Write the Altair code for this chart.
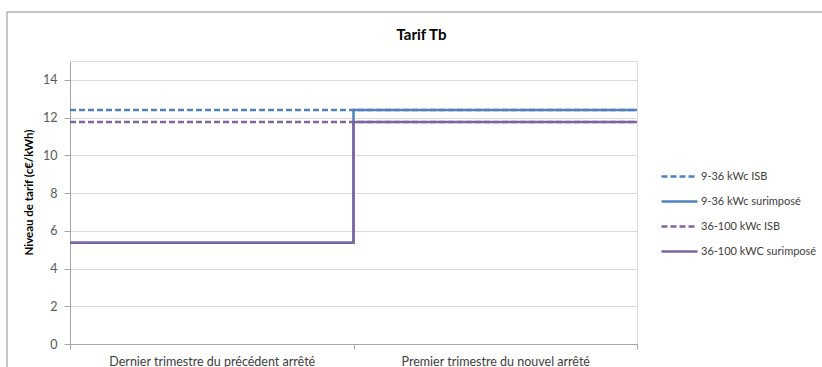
import altair as alt
import pandas as pd

categories = ["Dernier trimestre du précédent arrêté", "Premier trimestre du nouvel arrêté"]
series = ["9-36 kWc ISB", "9-36 kWc surimposé", "36-100 kWc ISB", "36-100 kWC surimposé"]
values_936_isb = [12.4, 12.4]
values_936_sur = [5.37, 12.4]
values_36100_isb = [11.77, 11.77]
values_36100_sur = [5.37, 11.77]
y_ticks = [0, 2, 4, 6, 8, 10, 12, 14]

colors = ["#4f81bd", "#4f81bd", "#8064a2", "#8064a2"]
dashes = [[6, 3], [1, 0], [6, 3], [1, 0]]

all_values = [values_936_isb, values_936_sur, values_36100_isb, values_36100_sur]
rows = []
for s, vals in zip(series, all_values):
    for i, v in enumerate(vals):
        rows.append({"series": s, "pos": i, "value": v})
    # end of the last period (step end)
    rows.append({"series": s, "pos": len(vals), "value": vals[-1]})
df = pd.DataFrame(rows)

FONT = "Lato"

legend = alt.Legend(
    title=None, orient="none", legendX=590, legendY=96,
    symbolType="stroke", symbolSize=1296, symbolStrokeWidth=2.5,
    labelFont=FONT, labelFontSize=11, labelColor="#404040",
    rowPadding=-13, labelOffset=2,
)

lines = alt.Chart(df).mark_line(interpolate="step-after", strokeWidth=2.5).encode(
    x=alt.X("pos:Q", scale=alt.Scale(domain=[0, len(categories)], nice=False, zero=False), axis=None),
    y=alt.Y("value:Q", scale=alt.Scale(domain=[0, 15], nice=False),
            axis=alt.Axis(values=y_ticks, title="Niveau de tarif (c€/kWh)",
                          titleFont=FONT, titleFontSize=11.5, titleFontWeight="bold", titleColor="#000000",
                          titleY=131, titleAlign="center", titlePadding=8,
                          labelFont=FONT, labelFontSize=12.5, labelColor="#595959", labelPadding=7,
                          grid=True, gridColor="#d9d9d9", gridWidth=1,
                          domainColor="#a6a6a6", tickColor="#a6a6a6", tickSize=6)),
    color=alt.Color("series:N", scale=alt.Scale(domain=series, range=colors), legend=legend),
    strokeDash=alt.StrokeDash("series:N", scale=alt.Scale(domain=series, range=dashes), legend=legend),
    order="pos:Q",
)

axis_layer = alt.Chart(pd.DataFrame({"cat": categories})).mark_tick(opacity=0).encode(
    x=alt.X("cat:N", sort=categories,
            scale=alt.Scale(type="band", paddingInner=0, paddingOuter=0),
            axis=alt.Axis(title=None, tickBand="extent", labelAngle=0, labelLimit=400,
                          labelFont=FONT, labelFontSize=12.5, labelColor="#404040", labelPadding=6,
                          domainColor="#a6a6a6", tickColor="#a6a6a6", tickSize=5)),
)

frame = alt.Chart(pd.DataFrame({"a": [0]})).mark_rect(fill=None, stroke="#8c8c8c", strokeWidth=1).encode(
    x=alt.value(-63), x2=alt.value(760), y=alt.value(-49), y2=alt.value(320),
)

chart = alt.layer(frame, axis_layer, lines).resolve_scale(x="independent").properties(
    width=567, height=283,
    title=alt.TitleParams("Tarif Tb", font=FONT, fontSize=15, fontWeight="bold", color="#000000",
                          dx=68, offset=-31),
    autosize=alt.AutoSizeParams(type="none"),
    padding={"left": 70, "top": 61, "right": 185, "bottom": 23},
).configure_view(stroke=None).configure(background="white")

chart.save("out.html", embed_options={"renderer": "svg", "actions": False})
